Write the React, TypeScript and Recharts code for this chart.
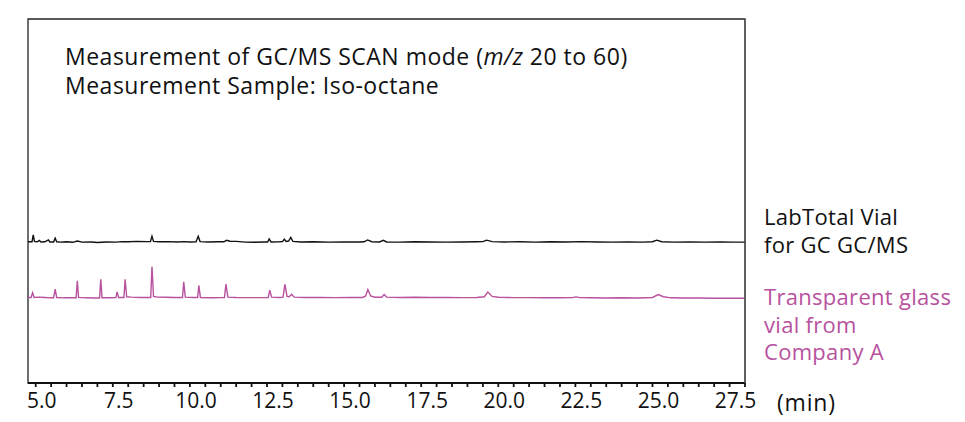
import { LineChart, Line, XAxis, YAxis, ReferenceArea } from 'recharts'

// retention time (min) / intensity above baseline (a.u.)
const labTotalPts: [number, number][] = [
  [4.75, 0.1], [4.88, 0.1], [4.92, 2.0], [4.96, 0.2], [5.05, 0.1], [5.12, 0.5], [5.17, 0.05],
  [5.3, 0.1], [5.41, 0.6], [5.46, 0.05], [5.58, 0.05], [5.63, 1.1], [5.68, 0.1], [5.8, 0.0],
  [6.0, 0.1], [6.2, -0.05], [6.35, 0.3], [6.5, 0.0], [6.8, 0.05], [7.0, -0.1], [7.3, 0.05],
  [7.6, 0.0], [7.8, 0.15], [8.0, 0.1], [8.3, 0.2], [8.6, 0.15], [8.72, 0.15], [8.77, 1.6],
  [8.82, 0.2], [9.0, 0.1], [9.3, 0.15], [9.6, 0.05], [9.8, 0.15], [10.0, 0.05], [10.2, 0.1],
  [10.27, 1.6], [10.33, 0.15], [10.6, 0.05], [10.9, 0.1], [11.1, 0.1], [11.19, 0.5], [11.3, 0.25],
  [11.5, 0.2], [11.8, 0.0], [12.1, -0.05], [12.4, 0.05], [12.52, 0.05], [12.57, 0.9], [12.63, 0.05],
  [12.9, 0.1], [13.0, 0.15], [13.06, 0.8], [13.12, 0.2], [13.2, 0.3], [13.27, 1.3], [13.34, 0.2],
  [13.6, 0.05], [14.0, 0.1], [14.5, 0.0], [15.0, 0.05], [15.5, 0.05], [15.65, 0.1], [15.76, 0.6],
  [15.9, 0.1], [16.15, 0.05], [16.27, 0.5], [16.38, 0.05], [16.8, 0.0], [17.3, 0.1], [17.8, 0.05],
  [18.3, 0.0], [18.8, 0.05], [19.3, 0.1], [19.5, 0.15], [19.62, 0.55], [19.8, 0.15], [20.2, 0.05],
  [20.7, 0.1], [21.2, 0.0], [21.7, 0.1], [22.2, 0.05], [22.7, 0.15], [23.2, 0.05], [23.7, 0.0],
  [24.2, 0.05], [24.7, 0.0], [25.0, 0.1], [25.14, 0.55], [25.3, 0.1], [25.7, 0.0], [26.2, 0.05],
  [26.7, 0.0], [27.2, 0.05], [27.6, 0.0], [28.0, 0.0],
]

const companyAPts: [number, number][] = [
  [4.75, 0.2], [4.85, 0.2], [4.9, 1.5], [4.95, 0.2], [5.1, 0.3], [5.3, 0.2], [5.45, 0.1],
  [5.58, 0.1], [5.63, 2.5], [5.68, 0.2], [5.9, 0.1], [6.2, 0.1], [6.31, 0.1], [6.35, 4.8],
  [6.39, 0.2], [6.6, 0.1], [6.9, 0.05], [7.07, 0.05], [7.11, 5.2], [7.15, 0.1], [7.4, 0.1],
  [7.6, 0.15], [7.64, 1.7], [7.69, 0.2], [7.86, 0.2], [7.9, 5.2], [7.95, 0.4], [8.1, 0.3],
  [8.4, 0.2], [8.73, 0.2], [8.77, 8.7], [8.82, 0.5], [8.95, 0.3], [9.2, 0.25], [9.5, 0.2],
  [9.76, 0.2], [9.8, 4.5], [9.85, 0.3], [10.1, 0.2], [10.25, 0.2], [10.29, 3.5], [10.34, 0.2],
  [10.7, 0.1], [11.0, 0.15], [11.12, 0.2], [11.17, 3.9], [11.23, 0.3], [11.5, 0.2], [11.9, 0.15],
  [12.3, 0.15], [12.54, 0.2], [12.59, 2.2], [12.65, 0.3], [12.9, 0.2], [13.02, 0.3], [13.08, 3.8],
  [13.15, 0.5], [13.22, 0.4], [13.3, 1.1], [13.38, 0.3], [13.7, 0.2], [14.2, 0.2], [14.7, 0.15],
  [15.2, 0.2], [15.6, 0.2], [15.7, 0.6], [15.77, 2.4], [15.86, 0.6], [16.0, 0.25], [16.22, 0.25],
  [16.3, 1.0], [16.38, 0.3], [16.8, 0.2], [17.3, 0.25], [17.8, 0.2], [18.3, 0.2], [18.8, 0.15],
  [19.3, 0.2], [19.55, 0.4], [19.66, 1.7], [19.8, 0.5], [20.0, 0.25], [20.5, 0.15], [21.0, 0.15],
  [21.5, 0.1], [22.0, 0.1], [22.4, 0.15], [22.52, 0.35], [22.65, 0.15], [23.0, 0.1], [23.5, 0.05],
  [24.0, 0.1], [24.5, 0.05], [25.0, 0.2], [25.19, 1.0], [25.35, 0.4], [25.6, 0.1], [26.0, 0.05],
  [26.5, 0.05], [27.0, 0.0], [27.5, 0.0], [28.0, 0.0],
]

// vertical stacking of the two traces
const labTotalOffset = 38.7
const companyAOffset = 23.3

const xTicks = [
  5, 5.5, 6, 6.5, 7, 7.5, 8, 8.5, 9, 9.5, 10, 10.5, 11, 11.5, 12, 12.5, 13, 13.5, 14, 14.5,
  15, 15.5, 16, 16.5, 17, 17.5, 18, 18.5, 19, 19.5, 20, 20.5, 21, 21.5, 22, 22.5, 23, 23.5,
  24, 24.5, 25, 25.5, 26, 26.5, 27, 27.5, 28,
]
const labelledTicks = [5, 7.5, 10, 12.5, 15, 17.5, 20, 22.5, 25, 27.5]

const PINK = '#b8519e'
const FONT = '"Open Sans", sans-serif'

const labTotal = labTotalPts.map(([t, v]) => ({ t, y: v + labTotalOffset }))
const companyA = companyAPts.map(([t, v]) => ({ t, y: v + companyAOffset }))

const TimeTick = (props: any) => {
  const { x, y, payload } = props
  if (!labelledTicks.includes(payload.value)) return null
  return (
    <text x={x + 6} y={y + 19} textAnchor="middle" fontSize={21} fill="#111" fontFamily={FONT}>
      {payload.value.toFixed(1)}
    </text>
  )
}

export default function App() {
  return (
    <div style={{ position: 'absolute', left: 0, top: 0, width: 965, height: 422, background: '#fff', fontFamily: FONT }}>
      <LineChart width={965} height={422} margin={{ top: 19, right: 210, bottom: 9, left: 28 }}>
        <ReferenceArea yAxisId="l" x1={4.75} x2={28} y1={0} y2={100} fill="none" stroke="#222" strokeWidth={1.3} />
        <XAxis
          type="number"
          dataKey="t"
          domain={[4.75, 28]}
          ticks={xTicks}
          interval={0}
          allowDataOverflow
          tick={<TimeTick />}
          tickSize={4}
          height={30}
          stroke="#111"
          strokeWidth={1.8}
        />
        <YAxis yAxisId="l" domain={[0, 100]} hide />
        <YAxis
          yAxisId="r"
          orientation="right"
          domain={[0, 100]}
          ticks={[companyAOffset, labTotalOffset]}
          tick={false}
          tickSize={5}
          width={10}
          stroke="#555"
          strokeWidth={1.2}
        />
        <Line yAxisId="l" data={companyA} dataKey="y" type="linear" stroke={PINK} strokeWidth={1.4} dot={false} isAnimationActive={false} />
        <Line yAxisId="l" data={labTotal} dataKey="y" type="linear" stroke="#111" strokeWidth={1.4} dot={false} isAnimationActive={false} />
      </LineChart>

      <div style={{ position: 'absolute', left: 65, top: 42, fontSize: 23, letterSpacing: 0.5, lineHeight: '29px', color: '#111' }}>
        <div>Measurement of GC/MS SCAN mode (<i>m/z</i> 20 to 60)</div>
        <div>Measurement Sample: Iso-octane</div>
      </div>
      <div style={{ position: 'absolute', left: 764, top: 203, fontSize: 22, letterSpacing: 0.3, lineHeight: '27.5px', color: '#111' }}>
        <div>LabTotal Vial</div>
        <div>for GC GC/MS</div>
      </div>
      <div style={{ position: 'absolute', left: 764, top: 283, fontSize: 22, letterSpacing: 0.3, lineHeight: '27.5px', color: PINK }}>
        <div>Transparent glass</div>
        <div>vial from</div>
        <div>Company A</div>
      </div>
      <div style={{ position: 'absolute', left: 777, top: 386, fontSize: 23, letterSpacing: 0.8, color: '#111' }}>(min)</div>
    </div>
  )
}
